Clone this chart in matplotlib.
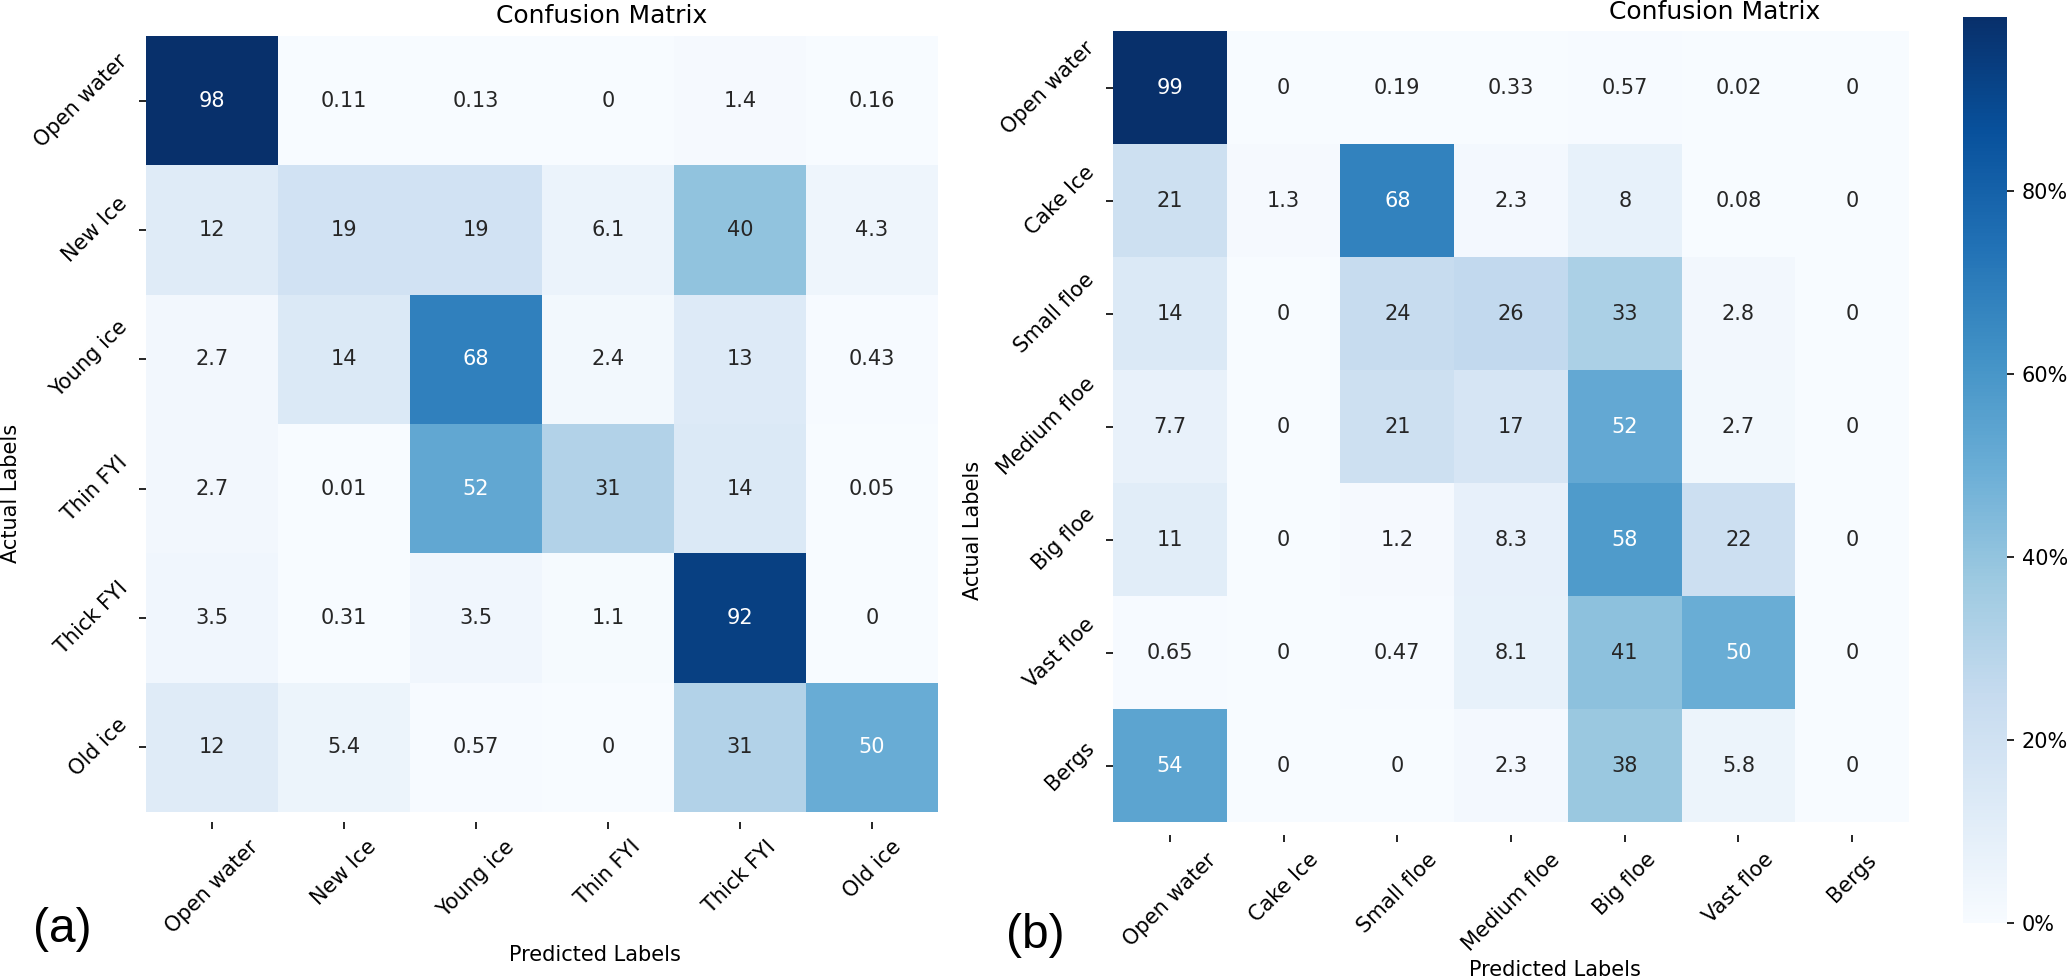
import matplotlib
matplotlib.use('Agg')
import matplotlib.pyplot as plt
import numpy as np
import seaborn as sns
from matplotlib.cm import ScalarMappable
from matplotlib.colors import Normalize
from matplotlib.ticker import PercentFormatter

labels_a = ['Open water', 'New Ice', 'Young ice', 'Thin FYI', 'Thick FYI', 'Old ice']
cm_a = [[98, 0.11, 0.13, 0, 1.4, 0.16],
        [12, 19, 19, 6.1, 40, 4.3],
        [2.7, 14, 68, 2.4, 13, 0.43],
        [2.7, 0.01, 52, 31, 14, 0.05],
        [3.5, 0.31, 3.5, 1.1, 92, 0],
        [12, 5.4, 0.57, 0, 31, 50]]

labels_b = ['Open water', 'Cake Ice', 'Small floe', 'Medium floe', 'Big floe', 'Vast floe', 'Bergs']
cm_b = [[99, 0, 0.19, 0.33, 0.57, 0.02, 0],
        [21, 1.3, 68, 2.3, 8, 0.08, 0],
        [14, 0, 24, 26, 33, 2.8, 0],
        [7.7, 0, 21, 17, 52, 2.7, 0],
        [11, 0, 1.2, 8.3, 58, 22, 0],
        [0.65, 0, 0.47, 8.1, 41, 50, 0],
        [54, 0, 0, 2.3, 38, 5.8, 0]]

cbar_ticks = [0, 20, 40, 60, 80]

W, H = 2067, 980
fig = plt.figure(figsize=(W / 150, H / 150), dpi=150)

def px_axes(l, t, r, b):
    return fig.add_axes([l / W, 1 - b / H, (r - l) / W, (b - t) / H])

def px_text(x, y, s, **kw):
    fig.text(x / W, 1 - y / H, s, ha='center', va='center', **kw)

def draw_cm(ax, cm, labels, vmax, extra):
    sns.heatmap(np.array(cm), annot=True, cmap='Blues', vmin=0, vmax=vmax,
                cbar=False, ax=ax, xticklabels=labels, yticklabels=labels)
    ax.set_ylim(len(labels) + extra, 0)
    ax.set_xticklabels(labels, rotation=45)
    ax.set_yticklabels(labels, rotation=45)
    ax.tick_params(labelsize=10)

ax1 = px_axes(146, 36, 938, 822)
draw_cm(ax1, cm_a, labels_a, 98, 0.078)
ax2 = px_axes(1113, 31, 1909, 835)
draw_cm(ax2, cm_b, labels_b, 99, 0.115)

cax = px_axes(1963, 17, 2007, 923)
cb = fig.colorbar(ScalarMappable(norm=Normalize(0, 99), cmap='Blues'), cax=cax)
cb.outline.set_visible(False)
cb.set_ticks(cbar_ticks)
cb.ax.yaxis.set_major_formatter(PercentFormatter(xmax=100, decimals=0))
cb.ax.tick_params(labelsize=10)

px_text(602, 16, 'Confusion Matrix', fontsize=12)
px_text(1715, 12, 'Confusion Matrix', fontsize=12)
px_text(595, 955, 'Predicted Labels', fontsize=10)
px_text(1555, 970, 'Predicted Labels', fontsize=10)
px_text(11, 493, 'Actual Labels', fontsize=10, rotation=90)
px_text(973, 530, 'Actual Labels', fontsize=10, rotation=90)
px_text(62, 929, '(a)', fontsize=23, family='Liberation Sans')
px_text(1035, 935, '(b)', fontsize=23, family='Liberation Sans')

plt.savefig('out.png', dpi=150)
